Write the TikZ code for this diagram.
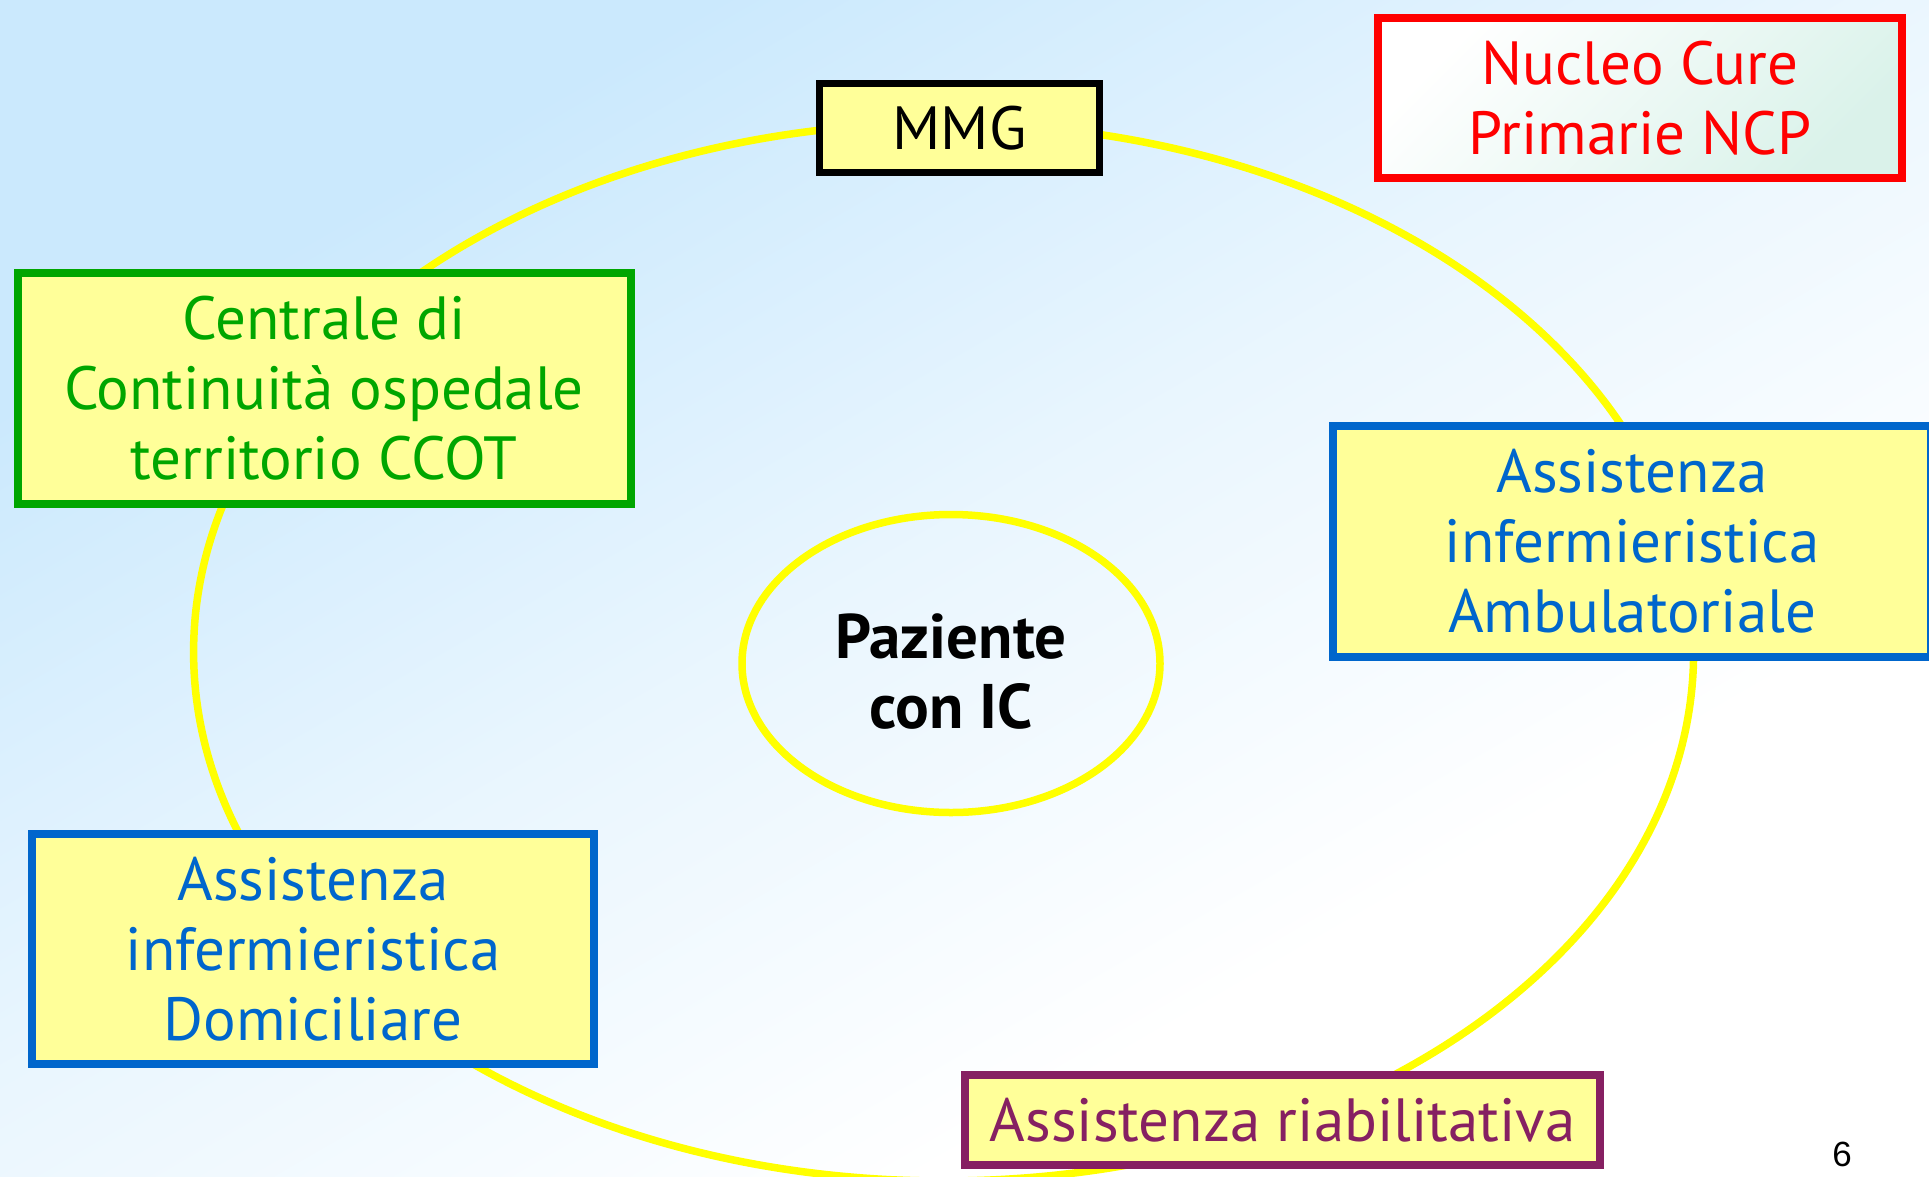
\documentclass[tikz,border=0pt]{standalone}
\usepackage{fontspec}
\setmainfont{PT Sans}
\newfontfamily\pagenumfont{Liberation Sans}
\usetikzlibrary{shapes.geometric}
\definecolor{bgblue}{RGB}{203,233,253}
\definecolor{boxfill}{RGB}{255,255,153}
\definecolor{ringyel}{RGB}{255,255,0}
\definecolor{ccotgreen}{RGB}{0,166,0}
\definecolor{infblue}{RGB}{0,102,204}
\definecolor{riabpurple}{RGB}{134,32,98}
\definecolor{ncpred}{RGB}{255,0,0}
\definecolor{ncpmint}{RGB}{218,242,234}
\pgfdeclareverticalshading{bgshade}{100bp}{color(0bp)=(white); color(33bp)=(white);
  color(52bp)=(bgblue!42!white); color(72bp)=(bgblue); color(100bp)=(bgblue)}
\tikzset{
  blk/.style={draw, fill=boxfill, line width=8pt, align=center, inner sep=0pt,
    font=\fontsize{61}{70}\selectfont},
  mmg/.style={blk, draw=black, text=black, line width=6.5pt, minimum width=280pt, minimum height=89pt},
  ncp/.style={blk, draw=ncpred, text=ncpred, top color=white, bottom color=ncpmint, shading angle=45},
  ccot/.style={blk, draw=ccotgreen, text=ccotgreen},
  inf/.style={blk, draw=infblue, text=infblue},
  riab/.style={blk, draw=riabpurple, text=riabpurple},
  paz/.style={draw=ringyel, ellipse, line width=7.5pt, align=center, inner sep=0pt,
    font=\fontsize{63}{70}\selectfont\bfseries},
  ring/.style={draw=ringyel, line width=7.5pt},
}

\begin{document}
\begin{tikzpicture}[x=1pt, y=-1pt]
% background
\shade[shading=bgshade, shading angle=30] (0,0) rectangle (1929,1176);
\useasboundingbox (0,0) rectangle (1929,1176);
% outer ring
\coordinate (c) at (943.6,652);
\draw[ring] (c) ellipse [x radius=750, y radius=529];
% patient
\node[paz, minimum width=418pt, minimum height=298pt] (paz) at (951,663.5)
  {\rule{0pt}{61pt}Paziente\\con IC};
% care actors
\node[mmg] (mmg) at (959.5,128) {MMG};
\node[ncp, minimum width=524pt, minimum height=160pt] (ncp) at (1640,98) {Nucleo Cure\\Primarie NCP};
\node[ccot, minimum width=613pt, minimum height=231pt] (ccot) at (324,388.5)
  {Centrale di\\Continuità ospedale\\territorio CCOT};
\node[inf, minimum width=598pt, minimum height=231pt] (ambu) at (1632,541.5)
  {Assistenza\\infermieristica\\Ambulatoriale};
\node[inf, minimum width=562pt, minimum height=230pt] (domi) at (313,949)
  {Assistenza\\infermieristica\\Domiciliare};
\node[riab, minimum width=635pt, minimum height=90pt] (riab) at (1282.5,1120) {Assistenza riabilitativa};
% page number
\node[font=\pagenumfont\fontsize{35}{40}\selectfont] (num) at (1842,1154) {6};
\end{tikzpicture}
\end{document}
